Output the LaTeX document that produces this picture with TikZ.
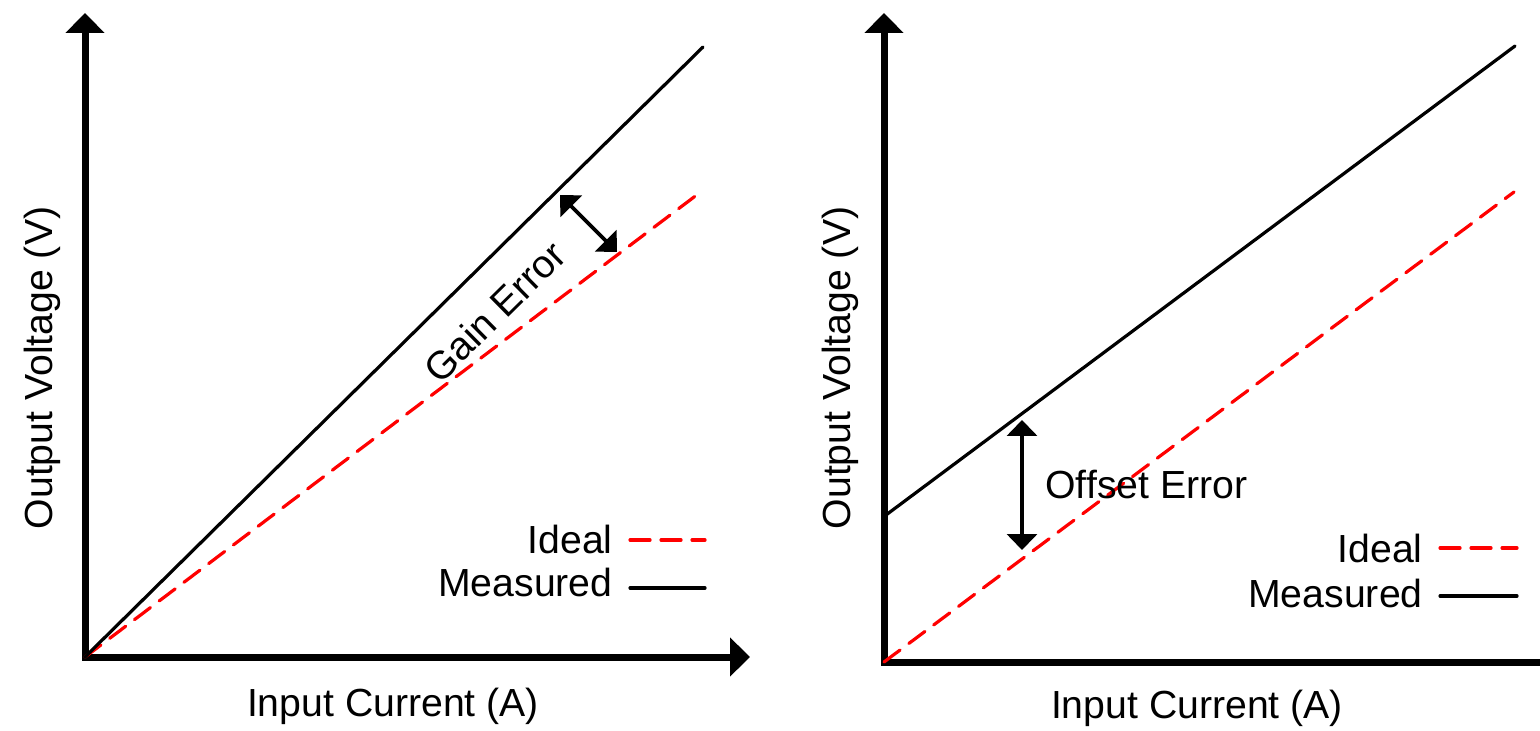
\documentclass[tikz,border=0pt]{standalone}
\usepackage{fontspec}
\setmainfont{Liberation Sans}
\usetikzlibrary{arrows.meta,positioning}
\tikzset{
  >={Triangle[length=10pt,width=19pt]},
  axis/.style={line width=3.5pt, line cap=rect},
  measured/.style={line width=1.6pt, line cap=round, black},
  ideal/.style={line width=1.6pt, line cap=round, red, dash pattern=on 10pt off 5.5pt},
  errarrow/.style={line width=1.8pt, {Triangle[length=8pt,width=15pt]}-{Triangle[length=8pt,width=15pt]}},
  lbl/.style={font=\fontsize{19.6}{23}\selectfont, inner sep=0pt},
}

\begin{document}
\begin{tikzpicture}[x=0.5pt, y=-0.5pt]
  \useasboundingbox (0,0) rectangle (1540,731);

  % gain error (left)
  \coordinate (o1) at (85,657);
  \coordinate (ytop1) at (85,13);
  \coordinate (xend1) at (750,657);
  \coordinate (m1) at (703,47);
  \coordinate (i1) at (702,191);
  \draw[axis, ->] (o1) -- (ytop1);
  \draw[axis, ->] (o1) -- (xend1);
  \draw[ideal] (o1) -- (i1);
  \draw[measured] (o1) -- (m1)
    node[lbl, pos=0.615, sloped, below=13pt] (gain) {Gain Error};
  \coordinate (ga) at (560,195);
  \coordinate (gb) at (617,252);
  \draw[errarrow] (ga) -- (gb);
  \node[lbl, rotate=90] (ylab1) at (42,368) {Output Voltage (V)};
  \node[lbl] (xlab1) at (393,706) {Input Current (A)};
  \node[lbl, anchor=base east] (idl1) at (613,553) {Ideal};
  \node[lbl, anchor=base east] (mea1) at (613,596) {Measured};
  \draw[ideal] (630,540) -- (705,540);
  \draw[measured] (630,588) -- (705,588);

  % offset error (right)
  \coordinate (o2) at (884,662);
  \coordinate (ytop2) at (884,13);
  \coordinate (xend2) at (1545,662);
  \coordinate (s2) at (886,515);
  \coordinate (m2) at (1515,46);
  \coordinate (i2) at (1514,192);
  \draw[axis, ->] (o2) -- (ytop2);
  \draw[axis] (o2) -- (xend2);
  \draw[ideal] (o2) -- (i2);
  \draw[measured] (s2) -- (m2);
  \coordinate (oa) at (1022,420);
  \coordinate (ob) at (1022,550);
  \draw[errarrow] (oa) -- (ob);
  \node[lbl, anchor=west] (offs) at (1045,485) {Offset Error};
  \node[lbl, rotate=90] (ylab2) at (840,368) {Output Voltage (V)};
  \node[lbl] (xlab2) at (1197,708) {Input Current (A)};
  \node[lbl, anchor=base east] (idl2) at (1423,562) {Ideal};
  \node[lbl, anchor=base east] (mea2) at (1423,607) {Measured};
  \draw[ideal] (1440,548) -- (1517,548);
  \draw[measured] (1440,596) -- (1517,596);
\end{tikzpicture}
\end{document}
